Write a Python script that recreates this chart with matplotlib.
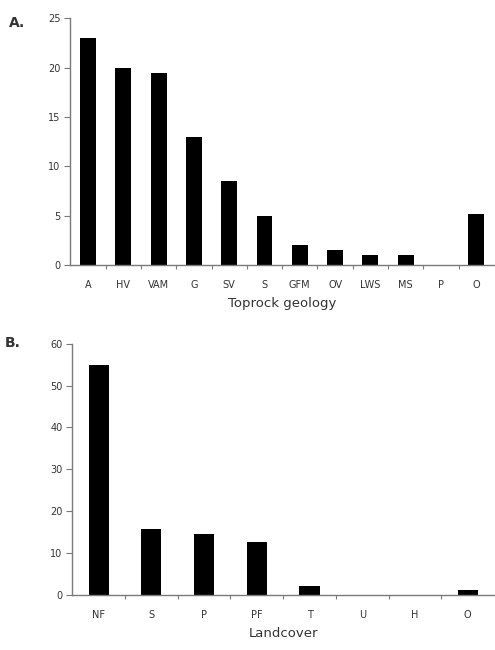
import numpy as np
import matplotlib.pyplot as plt
from matplotlib.ticker import FixedLocator

plt.rcParams['font.family'] = ['DejaVu Sans']

# Panel A: toprock geology
geo_labels = ['A', 'HV', 'VAM', 'G', 'SV', 'S', 'GFM', 'OV', 'LWS', 'MS', 'P', 'O']
geo_values = [23, 20, 19.5, 13, 8.5, 5, 2, 1.5, 1, 1, 0, 5.2]

# Panel B: landcover
lc_labels = ['NF', 'S', 'P', 'PF', 'T', 'U', 'H', 'O']
lc_values = [55, 15.7, 14.5, 12.5, 2, 0, 0, 1.2]

axis_col = '#7a7a7a'
text_col = '#333333'

fig = plt.figure(figsize=(4.95, 6.5), dpi=100)
ax0 = fig.add_axes([0.142, 0.592, 0.856, 0.380])
ax1 = fig.add_axes([0.146, 0.085, 0.852, 0.386])


def style(ax, labels, values, width, ymax, step, xlabel):
    x = np.arange(len(labels))
    ax.bar(x, values, width=width, color='black', zorder=2)
    ax.set_xlim(-0.5, len(labels) - 0.5)
    ax.set_ylim(0, ymax)
    ax.set_yticks(np.arange(0, ymax + 1, step))
    ax.set_xticks(x)
    ax.set_xticklabels(labels)
    ax.xaxis.set_minor_locator(FixedLocator(x[:-1] + 0.5))
    ax.tick_params(axis='x', which='major', length=0, pad=11,
                   labelsize=7, labelcolor=text_col)
    ax.tick_params(axis='x', which='minor', length=3, direction='out',
                   color=axis_col, width=0.8)
    ax.tick_params(axis='y', length=4, direction='out', color=axis_col,
                   width=0.8, labelsize=7, labelcolor=text_col, pad=3)
    for s in ['top', 'right']:
        ax.spines[s].set_visible(False)
    for s in ['left', 'bottom']:
        ax.spines[s].set_color(axis_col)
        ax.spines[s].set_linewidth(1.0)
    ax.set_xlabel(xlabel, fontsize=9.5, color=text_col, labelpad=5)


style(ax0, geo_labels, geo_values, 0.45, 25, 5, 'Toprock geology')
style(ax1, lc_labels, lc_values, 0.38, 60, 10, 'Landcover')

fig.text(0.018, 0.975, 'A.', fontsize=10, fontweight='bold', color=text_col, va='top')
fig.text(0.010, 0.483, 'B.', fontsize=10, fontweight='bold', color=text_col, va='top')

fig.savefig('out.png', dpi=100, facecolor='white')
